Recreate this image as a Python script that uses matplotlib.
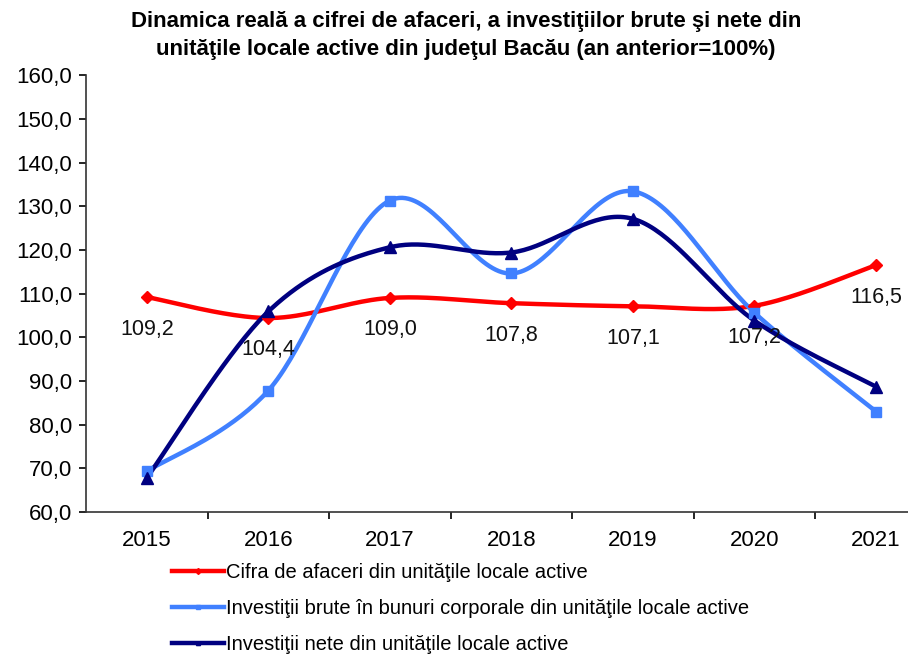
import matplotlib.pyplot as plt
from matplotlib.lines import Line2D
import numpy as np

plt.rcParams['font.family'] = ['Liberation Sans', 'DejaVu Sans']

years = ['2015', '2016', '2017', '2018', '2019', '2020', '2021']
cifra = [109.2, 104.4, 109.0, 107.8, 107.1, 107.2, 116.5]
brute = [69.3, 87.8, 131.3, 114.6, 133.4, 105.6, 83.0]
nete = [67.8, 105.9, 120.6, 119.4, 127.1, 103.8, 88.7]

labels = ['Cifra de afaceri din unităţile locale active',
          'Investiţii brute în bunuri corporale din unităţile locale active',
          'Investiţii nete din unităţile locale active']
colors = ['#ff0000', '#4080ff', '#000080']
markers = ['D', 's', '^']
msizes = [6, 7, 9]


def smooth(x, y, n=40):
    # bezier spline like excel "smoothed line"
    p = np.column_stack([x, y]).astype(float)
    out = []
    for i in range(len(p) - 1):
        p0 = p[i - 1] if i > 0 else p[i]
        p3 = p[i + 2] if i + 2 < len(p) else p[i + 1]
        c1 = p[i] + (p[i + 1] - p0) / 6
        c2 = p[i + 1] - (p3 - p[i]) / 6
        t = np.linspace(0, 1, n)[:, None]
        seg = ((1 - t) ** 3 * p[i] + 3 * (1 - t) ** 2 * t * c1
               + 3 * (1 - t) * t ** 2 * c2 + t ** 3 * p[i + 1])
        out.append(seg)
    out = np.vstack(out)
    return out[:, 0], out[:, 1]


fig = plt.figure(figsize=(9.08, 6.55), dpi=100)
ax = fig.add_axes([0.0947, 0.2183, 0.937, 0.667])

x = np.arange(len(years))
for vals, c, m, ms in zip([cifra, brute, nete], colors, markers, msizes):
    sx, sy = smooth(x, vals)
    ax.plot(sx, sy, color=c, lw=3.2, solid_capstyle='round', zorder=3)
    ax.plot(x, vals, ls='none', marker=m, ms=ms, color=c, zorder=4)

for xi, v in zip(x, cifra):
    ax.annotate(f'{v:.1f}'.replace('.', ','), (xi, v), xytext=(0, -23),
                textcoords='offset points', ha='center', va='center',
                fontsize=15.5, color='#111111', zorder=5)

ax.set_xlim(-0.5, 6.5)
ax.set_ylim(60, 160)
ax.set_yticks(np.arange(60, 161, 10))
ax.set_yticklabels([f'{v:.1f}'.replace('.', ',') for v in np.arange(60, 161, 10)])
ax.set_xticks(x)
ax.set_xticklabels(years)
ax.set_xticks(np.arange(0.5, 6.5, 1), minor=True)
ax.tick_params(axis='x', which='major', length=0, pad=13, labelsize=16)
ax.tick_params(axis='x', which='minor', length=5, width=1.2, direction='out')
ax.tick_params(axis='y', length=5, width=1.2, direction='out', pad=5, labelsize=16)
for s in ['top', 'right']:
    ax.spines[s].set_visible(False)
for s in ['left', 'bottom']:
    ax.spines[s].set_linewidth(1.2)
    ax.spines[s].set_color('#333333')

fig.text(0.513, 0.946,
         'Dinamica reală a cifrei de afaceri, a investiţiilor brute şi nete din\n'
         'unităţile locale active din judeţul Bacău (an anterior=100%)',
         ha='center', va='center', fontsize=16, fontweight='bold', linespacing=1.45)

handles = [Line2D([0], [0], color=c, lw=3.2, marker=m, ms=3) for c, m in zip(colors, markers)]
fig.legend(handles, labels, loc='upper left', bbox_to_anchor=(0.189, 0.14),
           frameon=False, fontsize=14.5, handlelength=2.6, handletextpad=0.1,
           labelspacing=0.84, borderaxespad=0, borderpad=0)

fig.savefig('out.png', dpi=100)
